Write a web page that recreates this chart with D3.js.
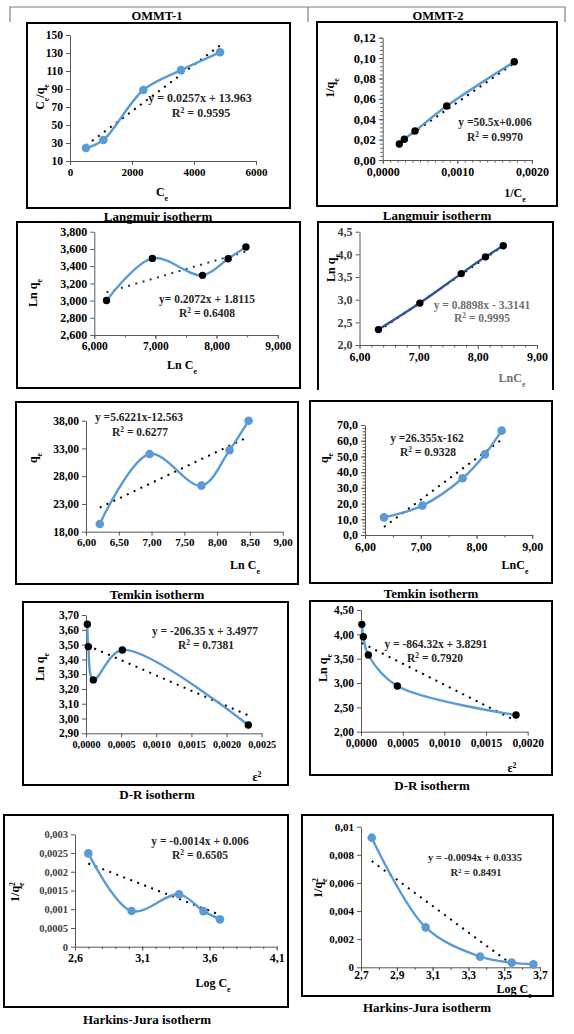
<!DOCTYPE html>
<html>
<head>
<meta charset="utf-8">
<script src="https://cdn.jsdelivr.net/npm/d3@7"></script>
<style>
body{margin:0;background:#fff}
svg{display:block}
text{font-family:"Liberation Serif","Times New Roman",serif;font-weight:bold}
</style>
</head>
<body>
<div id="chart"></div>
<script>
// ---- values ----
// Langmuir
var lang1Ce=[516,1075,2365,3580,4840];
var lang1CeQe=[24.4,33.3,88.9,111,130.8];
var lang1XTicks=[0,2000,4000,6000];
var lang1YTicks=[10,30,50,70,90,110,130,150];
var lang2InvCe=[0.000223,0.00029,0.000433,0.000858,0.001764];
var lang2InvQe=[0.0157,0.0203,0.0284,0.053,0.0964];
var lang2XTicks=[0,0.001,0.002];
var lang2YTicks=[0,0.02,0.04,0.06,0.08,0.10,0.12];
// Freundlich
var freu1LnCe=[6.20,6.95,7.77,8.19,8.48];
var freu1LnQe=[3.0,3.49,3.293,3.486,3.622];
var freu1XTicks=[6,7,8,9];
var freu1YTicks=[2.6,2.8,3.0,3.2,3.4,3.6,3.8];
var freu2LnCe=[6.32,7.02,7.72,8.13,8.43];
var freu2LnQe=[2.34,2.925,3.575,3.945,4.19];
var freu2XTicks=[6,7,8,9];
var freu2YTicks=[2.0,2.5,3.0,3.5,4.0,4.5];
// Temkin
var temk1LnCe=[6.21,6.97,7.76,8.19,8.48];
var temk1Qe=[19.4,32.0,26.3,32.7,38.0];
var temk1XTicks=[6,6.5,7,7.5,8,8.5,9];
var temk1YTicks=[18,23,28,33,38];
var temk2LnCe=[6.34,7.03,7.75,8.15,8.45];
var temk2Qe=[11.2,18.7,36.1,51.3,66.4];
var temk2XTicks=[6,7,8,9];
var temk2YTicks=[0,10,20,30,40,50,60,70];
// D-R
var dr1Eps=[0.000019,0.000033,0.000104,0.000517,0.00231];
var dr1LnQe=[3.637,3.486,3.261,3.463,2.956];
var dr1XTicks=[0,0.0005,0.001,0.0015,0.002,0.0025];
var dr1YTicks=[2.9,3.0,3.1,3.2,3.3,3.4,3.5,3.6,3.7];
var dr2Eps=[0.00001,0.000028,0.000088,0.000436,0.00186];
var dr2LnQe=[4.205,3.952,3.575,2.938,2.342];
var dr2XTicks=[0,0.0005,0.001,0.0015,0.002];
var dr2YTicks=[2.0,2.5,3.0,3.5,4.0,4.5];
// Harkins-Jura
var hj1LogCe=[2.699,3.021,3.374,3.555,3.678];
var hj1InvQe2=[0.00249,0.000952,0.001398,0.00095,0.00073];
var hj1XTicks=[2.6,3.1,3.6,4.1];
var hj1YTicks=[0,0.0005,0.001,0.0015,0.002,0.0025,0.003];
var hj2LogCe=[2.76,3.061,3.365,3.542,3.663];
var hj2InvQe2=[0.00922,0.00284,0.00076,0.00033,0.00021];
var hj2XTicks=[2.7,2.9,3.1,3.3,3.5,3.7];
var hj2YTicks=[0,0.002,0.004,0.006,0.008,0.01];
// linear fits printed on the charts [slope, intercept]
var fits=[[0.0257,13.963],[50.5,0.006],[0.2072,1.8115],[0.8898,-3.3141],[5.6221,-12.563],
          [26.355,-162],[-206.35,3.4977],[-864.32,3.8291],[-0.0014,0.006],[-0.0094,0.0335]];

var BLUE="#5b9bd5";

function comma(fmt){
    var f=d3.format(fmt);
    return function(d){return f(d).replace(".",",")}
}
function general(d){
    return String(+d.toFixed(5)).replace(".",",")
}

// text with sub/superscript parts: [[str,kind],...]
function richText(sel,parts,size){
    parts.forEach(function(p){
        var t=sel.append("tspan").text(p[0]);
        if(p[1]=="sub") t.attr("baseline-shift","sub").attr("font-size",size*0.65);
        if(p[1]=="sup") t.attr("baseline-shift","super").attr("font-size",size*0.65);
        if(p[1]=="subsup") t.attr("baseline-shift","super").attr("font-size",size*0.65).attr("dx",-size*0.3);
    });
}

function drawPanel(svg,p,k) {
    var g=svg.append("g");
    var b=p.box;
    if(p.openBottom){
        g.append("path")
            .attr("d","M"+b[0]+","+b[3]+"V"+b[1]+"H"+b[2]+"V"+b[3])
            .attr("fill","none").attr("stroke","#000").attr("stroke-width",2);
    } else {
        g.append("rect")
            .attr("x",b[0]).attr("y",b[1]).attr("width",b[2]-b[0]).attr("height",b[3]-b[1])
            .attr("fill","none").attr("stroke","#000").attr("stroke-width",2);
    }
    var x=d3.scaleLinear().domain(p.xd).range(p.xr);
    var y=d3.scaleLinear().domain(p.yd).range(p.yr);

    g.append("clipPath").attr("id","clip"+k).append("rect")
        .attr("x",p.xr[0]).attr("y",p.yr[1]-2)
        .attr("width",p.xr[1]-p.xr[0]).attr("height",p.yr[0]-p.yr[1]+2);

    if(p.xminor){
        g.append("g").attr("transform","translate(0,"+p.yr[0]+")")
            .call(d3.axisBottom(x).tickValues(p.xminor).tickSize(2.5).tickFormat(""))
            .call(function(s){s.select(".domain").remove();s.selectAll("line").attr("stroke","#595959")});
    }
    if(p.yminor){
        g.append("g").attr("transform","translate("+p.xr[0]+",0)")
            .call(d3.axisLeft(y).tickValues(p.yminor).tickSize(2.5).tickFormat(""))
            .call(function(s){s.select(".domain").remove();s.selectAll("line").attr("stroke","#595959")});
    }
    var xa=g.append("g").attr("transform","translate(0,"+p.yr[0]+")")
        .call(d3.axisBottom(x).tickValues(p.xt).tickFormat(p.xf).tickSize(4).tickSizeOuter(0)
            .tickPadding(p.xPad==null?3:p.xPad));
    var ya=g.append("g").attr("transform","translate("+p.xr[0]+",0)")
        .call(d3.axisLeft(y).tickValues(p.yt).tickFormat(p.yf).tickSize(4).tickSizeOuter(0).tickPadding(3));
    [[xa,p.fx],[ya,p.fy]].forEach(function(a){
        a[0].select(".domain").attr("stroke","#595959");
        a[0].selectAll(".tick line").attr("stroke","#595959");
        a[0].selectAll("text").attr("font-family",null).attr("font-size",a[1]).attr("fill","#000");
    });
    if(p.yTickStyle){
        ya.selectAll("text").attr("font-weight","normal").attr("fill",p.yTickStyle);
    }

    // series
    var pts=p.x.map(function(v,i){return [v,p.y[i]]});
    var fx=d3.extent(p.x);
    g.append("path").datum(fx)
        .attr("clip-path","url(#clip"+k+")")
        .attr("d",d3.line().x(function(d){return x(d)}).y(function(d){return y(p.fit[0]*d+p.fit[1])}))
        .attr("fill","none").attr("stroke",p.fitColor||"#000").attr("stroke-width",2)
        .attr("stroke-dasharray","2,5.5");
    g.append("path").datum(pts)
        .attr("d",d3.line().curve(d3.curveCatmullRom.alpha(0.5))
            .x(function(d){return x(d[0])}).y(function(d){return y(d[1])}))
        .attr("fill","none").attr("stroke",p.lineColor||BLUE).attr("stroke-width",2.4);
    g.selectAll("circle.pt").data(pts).enter().append("circle")
        .attr("cx",function(d){return x(d[0])})
        .attr("cy",function(d){return y(d[1])})
        .attr("r",p.r||4.3)
        .attr("fill",p.markColor||BLUE);

    // equation
    p.eq.forEach(function(e,i){
        var t=g.append("text").attr("x",e[1]).attr("y",e[2]).attr("dy","0.35em")
            .attr("text-anchor","middle").attr("font-size",p.eqSize||11.5).attr("fill",p.eqColor||"#262626");
        if(i==1) richText(t,[["R",""],["2","sup"],[e[0],""]],p.eqSize||11.5);
        else t.text(e[0]);
    });

    // axis labels
    var xl=g.append("text").attr("x",p.xl[1]).attr("y",p.xl[2]).attr("dy","0.35em")
        .attr("text-anchor","middle").attr("font-size",12).attr("fill",p.xlColor||"#000");
    richText(xl,p.xl[0],12);
    var yl=g.append("text").attr("transform","translate("+p.yl[1]+","+p.yl[2]+") rotate(-90)")
        .attr("dy","0.35em").attr("text-anchor","middle").attr("font-size",12).attr("fill","#000");
    richText(yl,p.yl[0],12);

    if(p.title){
        g.append("text").attr("x",p.title[1]).attr("y",p.title[2]).attr("dy","0.35em")
            .attr("text-anchor","middle").attr("font-size",13).text(p.title[0]);
    }
}

var svg=d3.select("#chart").append("svg").attr("width",574).attr("height",1034);

// table header
svg.append("path").attr("d","M10,22V7H565V22M308,7V22")
    .attr("fill","none").attr("stroke","#7f7f7f").attr("stroke-width",1.2);
svg.append("text").attr("x",157).attr("y",16).attr("dy","0.35em").attr("text-anchor","middle")
    .attr("font-size",12.5).text("OMMT-1");
svg.append("text").attr("x",438).attr("y",16).attr("dy","0.35em").attr("text-anchor","middle")
    .attr("font-size",12.5).text("OMMT-2");

var CE=[["C",""],["e","sub"]];
var panels=[
  {box:[27,23,290,208],xr:[70,256],yr:[161,35],xd:[0,6000],yd:[10,150],
   xt:lang1XTicks,yt:lang1YTicks,xf:d3.format("d"),yf:d3.format("d"),fx:11,fy:11.5,
   x:lang1Ce,y:lang1CeQe,fit:fits[0],eqSize:12,
   eq:[["y = 0.0257x + 13.963",200,98],[" = 0.9595",201,113]],
   xl:[CE,162,192],yl:[[["C",""],["e","sub"],["/q",""],["e","sub"]],40,97],
   title:["Langmuir isotherm",158,216]},
  {box:[317,22,557,206],xr:[382.7,531.9],yr:[160,37.7],xd:[0,0.002],yd:[0,0.12],
   xt:lang2XTicks,yt:lang2YTicks,xf:comma(".4f"),yf:comma(".2f"),fx:12,fy:12.5,
   xminor:d3.range(0,0.00201,0.0001),yminor:d3.range(0,0.1201,0.004),
   x:lang2InvCe,y:lang2InvQe,fit:fits[1],markColor:"#000",r:3.7,
   eq:[["y =50.5x+0.006",495,122],[" = 0.9970",495,137]],
   xl:[[["1/C",""],["e","sub"]],515,193],yl:[[["1/q",""],["e","sub"]],330,88],
   title:["Langmuir isotherm",437,215]},
  {box:[17,222,300,388],xr:[94.3,277.7],yr:[335,231.7],xd:[6,9],yd:[2.6,3.8],
   xt:freu1XTicks,yt:freu1YTicks,xf:comma(".3f"),yf:comma(".3f"),fx:11.5,fy:12,
   xminor:d3.range(6,9.01,0.5),
   x:freu1LnCe,y:freu1LnQe,fit:fits[2],markColor:"#000",r:3.7,fitColor:"#1f3864",
   eq:[["y= 0.2072x + 1.8115",207,299],[" = 0.6408",207,313]],
   xl:[[["Ln C",""],["e","sub"]],182,365],yl:[[["Ln q",""],["e","sub"]],33,293]},
  {box:[318,222,553,390],openBottom:true,xr:[359.5,537],yr:[345,231.7],xd:[6,9],yd:[2,4.5],
   xt:freu2XTicks,yt:freu2YTicks,xf:comma(".2f"),yf:comma(".1f"),fx:12,fy:12,yTickStyle:"#404040",
   xminor:d3.range(6,9.01,0.2),
   x:freu2LnCe,y:freu2LnQe,fit:fits[3],markColor:"#000",r:3.7,lineColor:"#2f5597",eqColor:"#6f6f6f",
   eq:[["y = 0.8898x - 3.3141",482,305],[" = 0.9995",482,318]],
   xl:[[["LnC",""],["e","sub"]],512,378],xlColor:"#6f6f6f",yl:[[["Ln q",""],["e","sub"]],331,268]},
  {box:[16,402,298,584],xr:[86,282.7],yr:[531.7,420.7],xd:[6,9],yd:[18,38],
   xt:temk1XTicks,yt:temk1YTicks,xf:comma(".2f"),yf:comma(".2f"),fx:11,fy:11.5,
   x:temk1LnCe,y:temk1Qe,fit:fits[4],
   eq:[["y =5.6221x-12.563",139,417],[" = 0.6277",140,432]],
   xl:[[["Ln C",""],["e","sub"]],245,565],yl:[[["q",""],["e","sub"]],33,458],
   title:["Temkin isotherm",157,594]},
  {box:[310,401,552,583],xr:[365,532.3],yr:[535,425],xd:[6,9],yd:[0,70],
   xt:temk2XTicks,yt:temk2YTicks,xf:comma(".2f"),yf:comma(".1f"),fx:12,fy:12,
   xminor:d3.range(6,9.01,0.5),yminor:d3.range(0,70.1,2),
   x:temk2LnCe,y:temk2Qe,fit:fits[5],
   eq:[["y =26.355x-162",427,438],[" = 0.9328",428,452]],
   xl:[[["LnC",""],["e","sub"]],515,565],yl:[[["q",""],["e","sub"]],324,458],
   title:["Temkin isotherm",431,593]},
  {box:[23,602,288,785],xr:[86,261.7],yr:[733.3,615],xd:[0,0.0025],yd:[2.9,3.7],
   xt:dr1XTicks,yt:dr1YTicks,xf:comma(".4f"),yf:comma(".2f"),fx:10.2,fy:11.5,
   x:dr1Eps,y:dr1LnQe,fit:fits[6],markColor:"#000",r:3.7,
   eq:[["y = -206.35 x + 3.4977",205,631],[" = 0.7381",206,645]],
   xl:[[["ε",""],["2","sup"]],257,777],yl:[[["Ln q",""],["e","sub"]],40,667],
   title:["D-R isotherm",157,794]},
  {box:[310,601,552,775],xr:[361,527.7],yr:[731.7,610],xd:[0,0.002],yd:[2,4.5],
   xt:dr2XTicks,yt:dr2YTicks,xf:comma(".4f"),yf:comma(".2f"),fx:11.5,fy:11.5,
   x:dr2Eps,y:dr2LnQe,fit:fits[7],markColor:"#000",r:3.7,
   eq:[["y = -864.32x + 3.8291",436,644],[" = 0.7920",435,658]],
   xl:[[["ε",""],["2","sup"]],512,768],yl:[[["Ln q",""],["e","sub"]],323,668],
   title:["D-R isotherm",432,785]},
  {box:[4,815,288,1007],xr:[75,276.7],yr:[946.7,834.3],xd:[2.6,4.1],yd:[0,0.003],
   xt:hj1XTicks,yt:hj1YTicks,xf:comma(".1f"),yf:general,fx:12,fy:10.5,yTickStyle:"#404040",
   xminor:d3.range(2.6,4.11,0.1),
   x:hj1LogCe,y:hj1InvQe2,fit:fits[8],
   eq:[["y = -0.0014x + 0.006",200,841],[" = 0.6505",200,855]],
   xl:[[["Log C",""],["e","sub"]],213,983],yl:[[["1/q",""],["e","sub"],["2","subsup"]],15,892],
   title:["Harkins-Jura isotherm",147,1019]},
  {box:[302,815,553,996],xr:[361,540],yr:[967.3,826.7],xd:[2.7,3.7],yd:[0,0.01],
   xt:hj2XTicks,yt:hj2YTicks,xf:comma(".1f"),yf:general,fx:11.5,fy:11,xPad:0,
   xminor:d3.range(2.7,3.71,0.1),
   x:hj2LogCe,y:hj2InvQe2,fit:fits[9],eqSize:10.5,
   eq:[["y = -0.0094x + 0.0335",475,857],[" = 0.8491",476,872]],
   xl:[[["Log C",""],["e","sub"]],514,989],yl:[[["1/q",""],["e","sub"],["2","subsup"]],318,888],
   title:["Harkins-Jura isotherm",427,1007]}
];

panels.forEach(function(p,k){drawPanel(svg,p,k)});
</script>
</body>
</html>
